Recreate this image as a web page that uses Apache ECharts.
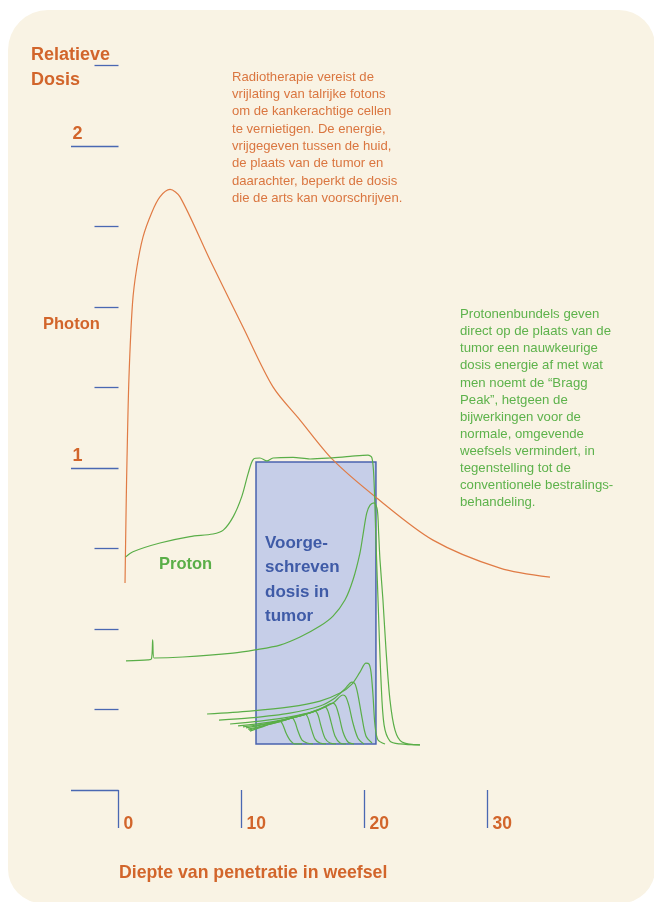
<!DOCTYPE html>
<html><head><meta charset="utf-8">
<script src="https://cdn.jsdelivr.net/npm/echarts@6/dist/echarts.min.js"></script>
<style>html,body{margin:0;padding:0;background:#fff}#c{width:654px;height:902px}</style>
</head><body><div id="c"></div>
<script>
// ---- data (depth in cm, relative dose) ----
const xTicks = [0, 10, 20, 30];
const yMinorTicks = [0.25, 0.5, 0.75, 1.25, 1.5, 1.75, 2.25];
const yMajorTicks = [0, 1, 2];
const yLabels = [1, 2];
const tumorDepth = [11.18, 20.93];
const tumorDose = [0.143, 1.019];

const photon = [[0.53,0.643],[0.63,0.901],[0.69,1.025],[0.85,1.280],[1.14,1.512],[1.46,1.615],[1.99,1.717],[2.70,1.793],[3.37,1.842],[4.19,1.865],[5.00,1.842],[7.44,1.646],[10.12,1.438],[12.56,1.252],[14.76,1.149],[17.44,1.025],[20.99,0.907],[25.57,0.776],[31.02,0.689],[35.08,0.661]];

const protonSOBP = [[0.59,0.724],[1.18,0.740],[3.37,0.767],[5.81,0.787],[7.68,0.795],[8.52,0.807],[9.33,0.849],[10.02,0.911],[10.55,0.984],[10.96,1.027],[11.50,1.031],[12.07,1.022],[12.56,1.031],[14.19,1.033],[15.57,1.028],[17.19,1.031],[18.82,1.036],[20.28,1.040],[20.61,1.031],[20.77,0.963],[20.93,0.776],[21.10,0.590],[21.34,0.342],[21.59,0.202],[22.07,0.152],[22.89,0.143],[24.51,0.140]];

const protonPristine = [[0.61,0.401],[2.40,0.404],[2.68,0.407],[2.78,0.466],[2.89,0.410],[5.24,0.413],[9.31,0.425],[11.10,0.435],[13.13,0.450],[14.76,0.475],[16.38,0.509],[17.44,0.540],[18.41,0.590],[19.06,0.652],[19.63,0.736],[19.90,0.798],[20.18,0.860],[20.45,0.885],[20.78,0.892],[21.04,0.870],[21.15,0.798],[21.26,0.714],[21.50,0.590],[21.75,0.435],[22.07,0.280],[22.48,0.186],[23.05,0.149],[24.51,0.140]];

const braggA = [[7.20,0.236],[10.69,0.245],[13.94,0.258],[16.38,0.276],[18.01,0.301],[18.98,0.329],[19.63,0.366],[20.12,0.394],[20.37,0.391],[20.53,0.366],[20.69,0.295],[20.85,0.202],[21.10,0.155],[21.67,0.143]];
const braggB = [[8.17,0.217],[10.69,0.224],[13.94,0.239],[16.38,0.261],[17.60,0.286],[18.41,0.314],[18.98,0.335],[19.23,0.329],[19.47,0.295],[19.80,0.224],[20.12,0.168],[20.61,0.146]];
const braggC = [[9.07,0.205],[11.50,0.214],[13.94,0.227],[15.98,0.245],[17.44,0.270],[18.25,0.295],[18.49,0.289],[18.74,0.261],[19.06,0.208],[19.47,0.161],[19.96,0.143]];
const braggD = [[9.72,0.199],[12.32,0.211],[14.76,0.230],[16.38,0.252],[17.44,0.270],[17.68,0.261],[17.93,0.230],[18.25,0.180],[18.66,0.149],[19.15,0.143]];
const braggE = [[10.12,0.196],[12.32,0.208],[14.76,0.230],[16.22,0.248],[16.79,0.258],[17.03,0.245],[17.28,0.211],[17.60,0.168],[18.01,0.146],[18.49,0.143]];
const braggF = [[10.37,0.193],[12.72,0.211],[14.76,0.230],[15.57,0.239],[15.98,0.245],[16.22,0.233],[16.46,0.199],[16.79,0.161],[17.19,0.146],[17.68,0.143]];
const braggG = [[10.53,0.189],[12.72,0.208],[14.35,0.227],[15.17,0.236],[15.41,0.224],[15.65,0.193],[15.98,0.158],[16.38,0.146],[16.87,0.143]];
const braggH = [[10.61,0.186],[12.32,0.205],[13.54,0.217],[14.11,0.224],[14.35,0.211],[14.59,0.183],[14.92,0.155],[15.33,0.146],[15.81,0.143]];
const braggI = [[10.69,0.183],[11.91,0.199],[12.72,0.211],[13.13,0.214],[13.37,0.202],[13.62,0.177],[13.94,0.155],[14.35,0.143],[14.92,0.143]];
const braggSet = [braggA, braggB, braggC, braggD, braggE, braggF, braggG, braggH, braggI];

const photonNote = ['Radiotherapie vereist de','vrijlating van talrijke fotons','om de kankerachtige cellen','te vernietigen. De energie,','vrijgegeven tussen de huid,','de plaats van de tumor en','daarachter, beperkt de dosis','die de arts kan voorschrijven.'];
const protonNote = ['Protonenbundels geven','direct op de plaats van de','tumor een nauwkeurige','dosis energie af met wat','men noemt de “Bragg','Peak”, hetgeen de','bijwerkingen voor de','normale, omgevende','weefsels vermindert, in','tegenstelling tot de','conventionele bestralings-','behandeling.'];

// ---- style ----
const FONT = '"Liberation Sans", Arial, sans-serif';
const ORANGE = '#d2652b';
const ORANGE_TXT = '#da7640';
const GREEN = '#5aae48';
const GREEN_TXT = '#5db24b';
const BLUE = '#4a68b2';
const PHOTON = '#e07b45';

const chart = echarts.init(document.getElementById('c'), null, {renderer: 'canvas'});

function txt(x, y, text, size, weight, color, lh) {
  return {type: 'text', x: x, y: y, z: 50, silent: true,
    style: {text: text, fontSize: size, fontWeight: weight, fontFamily: FONT, fill: color,
      lineHeight: lh, align: 'left', verticalAlign: 'top'}};
}

const line = (data, color, z) => ({type: 'line', data: data, showSymbol: false, symbol: 'none',
  smooth: 0.3, lineStyle: {color: color, width: 1.2}, z: z, silent: true, animation: false});

const series = [
  {type: 'line', data: [], z: 1, silent: true,
    markArea: {silent: true, itemStyle: {color: '#c6cee8', borderColor: '#4a63ae', borderWidth: 1.5, opacity: 1},
      data: [[{coord: [tumorDepth[0], tumorDose[0]]}, {coord: [tumorDepth[1], tumorDose[1]]}]]}},
  line(photon, PHOTON, 4),
  line(protonSOBP, GREEN, 4),
  line(protonPristine, GREEN, 4)
].concat(braggSet.map(b => line(b, GREEN, 3)));

chart.setOption({
  backgroundColor: '#ffffff',
  animation: false,
  grid: {left: 118.5, right: 43.5, top: 65.5, bottom: 112},
  xAxis: {type: 'value', min: 0, max: 40, interval: 10,
    axisLine: {show: false}, splitLine: {show: false},
    axisTick: {show: true, inside: false, length: 38, customValues: xTicks, lineStyle: {color: BLUE, width: 1.3}},
    axisLabel: {customValues: xTicks, margin: 25, align: 'left', verticalAlign: 'top', padding: [0,0,0,5],
      fontSize: 17.5, fontWeight: 'bold', fontFamily: FONT, color: ORANGE, lineHeight: 18}},
  yAxis: [
    {type: 'value', min: 0, max: 2.25, interval: 0.25, position: 'left',
      axisLine: {show: false}, splitLine: {show: false},
      axisTick: {show: true, length: 24, customValues: yMinorTicks, lineStyle: {color: BLUE, width: 1.3}},
      axisLabel: {show: false}},
    {type: 'value', min: 0, max: 2.25, interval: 0.25, position: 'left',
      axisLine: {show: false}, splitLine: {show: false},
      axisTick: {show: true, length: 47.5, customValues: yMajorTicks, lineStyle: {color: BLUE, width: 1.3}},
      axisLabel: {customValues: yLabels, margin: 46, align: 'left', verticalAlign: 'bottom', padding: [0,0,3,0],
        fontSize: 18, fontWeight: 'bold', fontFamily: FONT, color: ORANGE, lineHeight: 18}}
  ],
  graphic: {elements: [
    {type: 'rect', z: -100, silent: true, shape: {x: 8, y: 10, width: 647, height: 893, r: [40, 36, 34, 34]},
      style: {fill: '#f9f3e4'}},
    txt(31, 43, 'Relatieve\nDosis', 18, 'bold', ORANGE, 24.4),
    txt(43, 314.5, 'Photon', 16.5, 'bold', ORANGE, 20),
    txt(159, 554.5, 'Proton', 16.5, 'bold', GREEN, 20),
    txt(265, 531, 'Voorge-\nschreven\ndosis in\ntumor', 17, 'bold', '#3f5ba7', 24.5),
    txt(119, 863, 'Diepte van penetratie in weefsel', 17.7, 'bold', ORANGE, 20),
    txt(232, 68.5, photonNote.join('\n'), 13.1, 'normal', ORANGE_TXT, 17.3),
    txt(460, 306, protonNote.join('\n'), 13.2, 'normal', GREEN_TXT, 17.1)
  ]},
  series: series
});
</script></body></html>
